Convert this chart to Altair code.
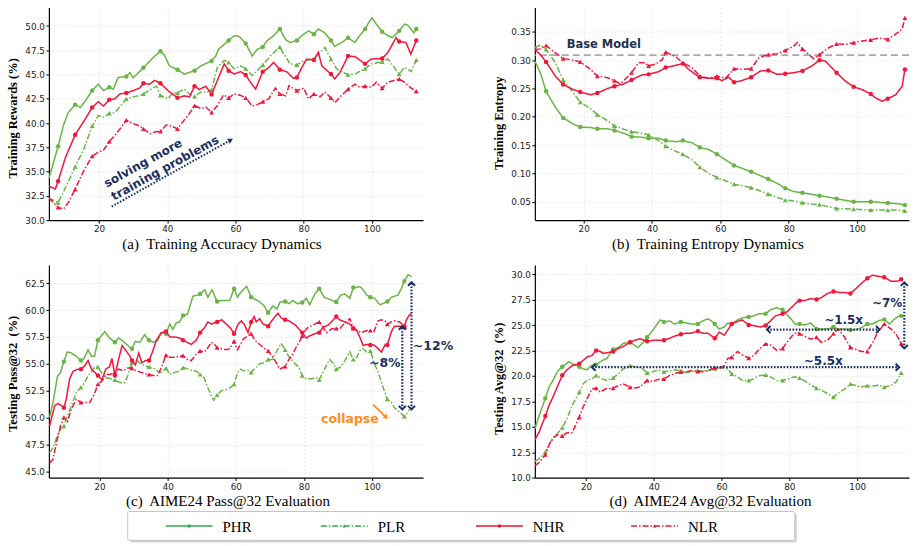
import altair as alt
import pandas as pd

SERIES = ["PHR", "PLR", "NHR", "NLR"]
GREEN = "#6ab446"
RED = "#f0173a"
NAVY = "#1b2f63"
ORANGE = "#ff8c1a"
COLOR_RANGE = [GREEN, GREEN, RED, RED]
LEGEND_COLORS = ["#30a84e", "#30a84e", "#ee1330", "#ee1330"]
DASH_RANGE = [[1, 0], [6, 2, 1.5, 2], [1, 0], [6, 2, 1.5, 2]]
SHAPE_RANGE = ["circle", "triangle-up", "circle", "triangle-up"]

# ---------------- (a) Training rewards ----------------
A_PHR = [(5.3, 34.3), (8, 37.6), (9.6, 39.8), (11, 41.1), (13, 41.9), (14.5, 41.6), (16.4, 42.5), (18, 43.35),
         (19.8, 44.0), (21.3, 43.35), (23, 43.7), (24.2, 43.5), (25.6, 44.7), (28, 44.8), (29, 45.2), (30, 44.65),
         (33, 45.7), (36.3, 46.9), (38, 47.4), (39.2, 47.0), (40.6, 45.9), (43, 45.5), (45, 45.05), (48, 45.4),
         (49.9, 45.9), (53, 46.4), (54.2, 46.9), (55, 47.6), (58, 48.5), (59.6, 49.0), (60.5, 49.0), (61.5, 48.8),
         (63, 48.2), (64.9, 46.9), (66.4, 47.6), (68, 47.85), (69.3, 48.5), (71.2, 49.0), (73, 49.7), (74.7, 48.6),
         (76, 48.3), (78, 48.5), (79.4, 49.0), (81.4, 49.5), (83, 49.15), (84.3, 49.7), (86.2, 49.3), (88, 48.5),
         (89.1, 47.9), (91.6, 48.4), (93, 48.8), (95, 48.3), (96.4, 49.0), (98, 49.7), (99.3, 50.5), (100, 50.85),
         (101.3, 50.2), (103, 49.4), (104.7, 49.0), (106, 48.8), (108, 49.5), (109.6, 50.2), (110.5, 50.1),
         (112.3, 49.3), (113, 49.7)]
A_PLR = [(5.3, 32.3), (8, 31.8), (10.1, 33.3), (13, 35.5), (15.4, 37.2), (18, 39.7), (19.8, 40.8), (21.3, 40.6),
         (23, 41.0), (24.7, 41.1), (26.6, 41.9), (28, 42.5), (30, 42.7), (31.9, 42.85), (33, 43.0), (35, 43.45),
         (36.9, 43.8), (38, 42.85), (40.2, 42.5), (41.6, 43.1), (43, 43.1), (45, 43.5), (46.5, 43.0), (48, 42.75),
         (49.9, 43.2), (51.8, 43.2), (53, 43.45), (54.7, 45.75), (56.7, 46.45), (58, 46.25), (59.6, 45.6),
         (61.5, 45.9), (63, 45.6), (64.9, 44.9), (66.4, 45.4), (68, 46.0), (70.2, 46.9), (73, 47.85), (74.2, 47.1),
         (76, 46.1), (78, 46.0), (80, 46.4), (83, 46.6), (84.3, 47.1), (86.2, 47.8), (88, 46.6), (89.6, 45.6),
         (91.6, 45.2), (93, 45.0), (95, 45.05), (98, 45.6), (99.8, 46.1), (103, 46.3), (104.7, 46.6), (108, 45.05),
         (109.6, 45.75), (111.5, 45.3), (113, 46.5)]
A_NHR = [(5.3, 33.5), (7.2, 33.2), (8, 34.0), (10.1, 36.4), (13, 38.8), (15.4, 40.1), (18, 41.6), (19.8, 42.2),
         (21.3, 41.75), (23, 42.4), (24.7, 42.5), (26.1, 43.0), (28, 43.1), (30, 43.35), (31.9, 43.6), (33, 44.1),
         (34.8, 44.0), (36.3, 44.4), (38, 44.1), (40.2, 43.35), (43, 42.6), (45, 42.8), (46.5, 42.7), (48, 43.8),
         (49.4, 43.45), (51.3, 43.8), (53, 42.95), (56.7, 46.1), (58, 45.4), (59.6, 45.05), (61.5, 45.3),
         (63, 44.95), (64.4, 44.2), (65.9, 43.5), (68, 45.3), (69.7, 45.7), (71.2, 46.25), (73, 45.5), (75, 45.3),
         (77, 44.6), (78, 44.7), (79.4, 45.7), (80.9, 46.6), (83, 46.5), (84.3, 47.3), (85.3, 45.9), (88, 45.05),
         (89.1, 44.55), (90.6, 45.2), (93, 46.9), (95, 46.85), (98, 46.1), (99.8, 46.6), (103, 46.65),
         (104.7, 47.3), (107.1, 48.8), (108, 48.4), (110, 48.3), (111.4, 47.1), (113, 48.5)]
A_NLR = [(5.3, 32.3), (8, 31.3), (9.6, 31.15), (11, 31.8), (13, 33.2), (15.4, 35.0), (18, 36.6), (19.8, 37.0),
         (21.3, 37.2), (23, 38.1), (24.7, 38.75), (26.6, 39.6), (28, 40.3), (30, 39.95), (31.9, 39.7), (33, 39.4),
         (35, 38.9), (36.5, 39.1), (38, 39.15), (39.7, 39.8), (41.1, 39.7), (43, 39.4), (44.5, 40.1), (46.5, 41.0),
         (48, 41.8), (49.9, 41.5), (51.3, 41.65), (53, 41.1), (54.7, 41.8), (56.5, 42.9), (58, 42.6), (59.6, 43.0),
         (61.5, 42.85), (63, 42.6), (64.9, 41.75), (66.4, 41.9), (68, 42.2), (69.7, 42.5), (71.7, 43.6), (73, 43.0),
         (74.7, 42.8), (75.7, 43.85), (78, 43.35), (80, 43.6), (81.4, 42.5), (83, 43.0), (84.8, 42.7),
         (86.2, 43.2), (88, 42.6), (89.1, 42.1), (91.1, 42.85), (93, 43.5), (95, 44.0), (96.4, 43.7), (98, 43.8),
         (99.8, 43.7), (101.3, 44.2), (103, 43.6), (104.7, 44.2), (108, 44.55), (109.6, 44.2), (111.5, 43.6),
         (113, 43.3)]

# ---------------- (b) Training entropy ----------------
B_PHR = [(5.7, 0.2985), (7.3, 0.278), (9, 0.245), (11.7, 0.217), (14, 0.198), (17, 0.187), (19, 0.182),
         (22, 0.181), (24, 0.179), (27, 0.179), (29, 0.176), (31.7, 0.171), (34, 0.165), (37, 0.164), (39, 0.162),
         (42, 0.162), (44, 0.158), (47, 0.156), (49, 0.158), (51.7, 0.154), (54, 0.146), (56.6, 0.142),
         (59, 0.134), (61.5, 0.124), (64, 0.114), (66.3, 0.109), (69, 0.103), (71.7, 0.096), (74, 0.090),
         (76.6, 0.0825), (79, 0.0737), (81.5, 0.0678), (84, 0.066), (86.8, 0.063), (89, 0.0607), (91.7, 0.058),
         (94, 0.0553), (96.6, 0.0524), (99, 0.050), (101.5, 0.050), (104, 0.050), (106.3, 0.049), (109, 0.0476),
         (111.9, 0.0465), (114, 0.044)]
B_PLR = [(5.7, 0.322), (7.3, 0.327), (9, 0.319), (11.7, 0.2955), (14, 0.265), (17, 0.242), (19, 0.226),
         (22, 0.2145), (24, 0.204), (27, 0.193), (29, 0.184), (31.7, 0.178), (34, 0.174), (37, 0.171), (39, 0.168),
         (42, 0.158), (44, 0.148), (47, 0.139), (49, 0.134), (51.7, 0.124), (54, 0.111), (56.6, 0.100),
         (59, 0.093), (61.5, 0.087), (64, 0.081), (66.3, 0.0784), (69, 0.075), (71.7, 0.069), (74, 0.0636),
         (76.6, 0.0577), (79, 0.053), (81.5, 0.0512), (84, 0.0482), (86.8, 0.0459), (89, 0.0447), (91.7, 0.0411),
         (94, 0.0382), (96.6, 0.0376), (99, 0.037), (101.5, 0.0358), (104, 0.0352), (106.3, 0.0352),
         (109, 0.0352), (111.9, 0.0352), (114, 0.034)]
B_NHR = [(5.7, 0.319), (7.3, 0.31), (9, 0.297), (11.7, 0.272), (14, 0.257), (17, 0.248), (19, 0.244),
         (22, 0.239), (24, 0.242), (27, 0.25), (29, 0.254), (31.7, 0.258), (34, 0.265), (37, 0.274), (39, 0.275),
         (42, 0.280), (44, 0.287), (47, 0.291), (49, 0.294), (50.7, 0.284), (52.7, 0.275), (54, 0.270),
         (56.6, 0.268), (59, 0.268), (60.5, 0.264), (62.4, 0.270), (64, 0.261), (66.3, 0.264), (69, 0.270),
         (71.7, 0.281), (74, 0.282), (76.6, 0.275), (79, 0.276), (81.5, 0.278), (84, 0.281), (86.8, 0.290),
         (89, 0.300), (90.7, 0.2985), (94, 0.278), (96.6, 0.263), (99, 0.253), (101.5, 0.248), (104, 0.2405),
         (105.4, 0.2335), (107.3, 0.2275), (109, 0.232), (111.3, 0.239), (113.2, 0.254), (114, 0.2837)]
B_NLR = [(5.7, 0.319), (7.3, 0.320), (9, 0.326), (11.7, 0.313), (14, 0.303), (17, 0.300), (19, 0.297),
         (22, 0.284), (24, 0.272), (27, 0.269), (29, 0.264), (30.7, 0.258), (34, 0.278), (36.1, 0.2955),
         (38, 0.2955), (39, 0.290), (41, 0.293), (43, 0.301), (44, 0.3145), (47, 0.3056), (49, 0.2955),
         (51.7, 0.287), (54, 0.272), (56.6, 0.268), (59, 0.272), (61.5, 0.268), (64, 0.285), (66.3, 0.284),
         (69, 0.285), (71.2, 0.304), (74, 0.310), (76.6, 0.3115), (79, 0.3175), (81.5, 0.325), (82.5, 0.331),
         (84, 0.320), (85.9, 0.310), (87.3, 0.3027), (89, 0.310), (91.7, 0.322), (94, 0.329), (96.6, 0.328),
         (99, 0.331), (101.5, 0.334), (104, 0.336), (106.3, 0.339), (109, 0.337), (111.3, 0.346), (113.2, 0.355),
         (114, 0.375)]
BASE_MODEL_ENTROPY = 0.309

# ---------------- (c) AIME24 Pass@32 ----------------
C_PHR = [(5.3, 50.0), (6.3, 51.4), (7.6, 53.8), (8.5, 54.2), (9.5, 55.2), (10.5, 56.1), (11.7, 56.0),
         (13.1, 55.7), (14.5, 55.3), (15.4, 55.5), (16.6, 56.3), (17.6, 55.7), (18.5, 55.7), (19.5, 57.2),
         (20.5, 57.6), (21.5, 58.0), (22.9, 57.4), (24.5, 57.0), (25.6, 57.4), (26.9, 57.1), (28.3, 56.7),
         (29.5, 56.4), (30.5, 57.1), (31.8, 57.0), (33.2, 57.7), (34.5, 57.2), (35.7, 57.0), (37.1, 57.2),
         (38.1, 57.9), (39.5, 57.8), (40.6, 58.7), (41.5, 58.2), (42.5, 58.8), (43.5, 58.9), (44.5, 59.5),
         (45.8, 59.6), (47.4, 61.3), (48.9, 61.4), (49.5, 61.5), (50.9, 61.9), (51.8, 61.2), (53, 61.9),
         (54.5, 60.8), (55.8, 60.9), (57.2, 60.9), (58.2, 60.9), (59.5, 62.0), (60.5, 61.2), (61.1, 61.5),
         (62.5, 62.0), (63.2, 62.2), (64.5, 61.2), (65.7, 61.0), (67.1, 60.75), (68.3, 60.4), (69.5, 59.75),
         (70.9, 60.4), (72.1, 60.1), (73, 60.75), (74.5, 60.8), (75.7, 60.6), (76.7, 60.9), (78, 60.6),
         (79.5, 60.7), (80.7, 61.1), (81.7, 60.5), (83.2, 61.5), (84.5, 62.0), (85.9, 61.2), (87.5, 61.0),
         (89.5, 60.75), (90.8, 61.4), (92, 61.5), (93.5, 61.1), (94.5, 62.1), (95.5, 62.1), (96.4, 62.2),
         (97.4, 61.9), (98.4, 61.4), (99.5, 61.2), (100.8, 61.1), (102.3, 60.5), (103.2, 60.6), (104.5, 60.8),
         (105.7, 61.2), (107.6, 61.4), (108.6, 62.0), (109.5, 62.7), (110.6, 63.3), (111.6, 63.1)]
C_PLR = [(5.3, 46.7), (6.3, 47.2), (7.6, 48.3), (8.5, 48.9), (9.5, 49.2), (10.5, 50.1), (11.7, 51.1),
         (13.1, 52.3), (14.5, 52.8), (15.6, 53.25), (16.6, 53.9), (17.7, 54.3), (18.5, 54.7), (19.5, 54.7),
         (20.5, 54.2), (21.9, 53.7), (23.4, 53.6), (24.5, 53.5), (25.9, 53.25), (27.3, 53.2), (28.3, 53.9),
         (29.5, 55.1), (30.7, 55.3), (32.2, 55.0), (33.2, 54.8), (34.5, 54.7), (35.7, 54.6), (37.1, 54.3),
         (38.1, 54.2), (39.5, 54.6), (40.6, 54.0), (42, 54.2), (43.5, 54.3), (44.5, 54.65), (45.8, 54.55),
         (46.9, 54.4), (48.4, 54.3), (49.5, 54.0), (50.7, 53.7), (51.6, 52.9), (52.8, 52.0), (53.5, 51.6),
         (54.5, 52.1), (55.8, 52.5), (57.2, 52.6), (58.5, 52.8), (59.5, 53.1), (60.5, 54.2), (61.5, 54.5),
         (62.2, 54.35), (63.6, 54.4), (64.5, 54.2), (65.8, 54.65), (67, 55.0), (68.5, 55.1), (69.5, 55.4),
         (70.9, 55.4), (71.9, 56.1), (73.3, 56.9), (74.5, 56.3), (75.7, 55.6), (77.2, 55.1), (78.6, 54.6),
         (79.5, 53.9), (80.7, 53.6), (82.2, 53.6), (83.7, 53.7), (84.5, 53.5), (85.6, 54.2), (87.5, 55.4),
         (88.5, 55.1), (89.5, 54.5), (90.8, 54.7), (92, 55.3), (93.5, 56.1), (94.5, 55.4), (95.5, 55.6),
         (96.4, 56.2), (97.4, 56.4), (98.4, 56.1), (99.5, 56.2), (100.6, 55.1), (101.8, 54.2), (102.8, 53.25),
         (103.8, 52.3), (104.5, 51.7), (105.7, 51.4), (106.6, 50.9), (108.1, 50.5), (109.5, 50.1),
         (110.1, 50.3), (111.1, 50.75)]
C_NHR = [(5.3, 49.2), (6.8, 51.1), (7.8, 51.3), (8.8, 51.1), (9.5, 50.9), (10.2, 51.7), (11.2, 53.6),
         (12.2, 54.3), (13.6, 54.5), (14.5, 54.5), (15.6, 54.8), (16.6, 55.3), (17.6, 54.5), (19.5, 53.9),
         (20.7, 53.5), (21.8, 54.5), (22.9, 54.7), (23.6, 55.5), (24.5, 53.9), (25.4, 55.2), (26.6, 56.7),
         (27.8, 56.2), (28.8, 55.75), (29.5, 55.3), (30.5, 54.9), (31.5, 56.0), (32.4, 55.1), (33.4, 55.3),
         (34.5, 55.3), (35.4, 56.0), (36.7, 57.2), (38.1, 57.9), (39.5, 58.0), (40.6, 57.5), (42, 57.5),
         (43.5, 57.4), (44.5, 57.2), (46.9, 56.8), (48.4, 57.2), (49.5, 57.9), (50.9, 58.4), (51.8, 58.9),
         (52.8, 58.7), (54.5, 58.9), (55.8, 59.1), (57.2, 58.7), (58.5, 58.3), (59.5, 57.8), (60.7, 58.7),
         (61.6, 59.0), (62.6, 58.6), (63.6, 57.9), (64.5, 58.9), (65.4, 59.4), (66, 58.9), (67, 59.2),
         (68, 58.7), (69.5, 58.5), (70.3, 58.9), (71.3, 59.3), (72.4, 59.7), (73.4, 59.25), (74.5, 59.1),
         (75.6, 59.0), (77.5, 58.6), (78.5, 58.25), (79.5, 57.9), (80.7, 57.4), (81.7, 57.6), (83.2, 57.8),
         (84.5, 57.9), (85.6, 58.4), (87.1, 58.6), (88.1, 58.9), (89.5, 59.4), (90.5, 59.1), (92, 58.9),
         (93.5, 58.7), (94.5, 58.3), (95.5, 58.1), (96.4, 57.5), (97.4, 56.7), (98.4, 56.8), (99.5, 56.75),
         (100.6, 56.75), (101.8, 56.4), (102.8, 56.1), (103.8, 56.75), (104.5, 56.75), (105.7, 58.0),
         (106.6, 58.5), (108.1, 58.5), (109.5, 58.5), (110.1, 59.1), (111.1, 59.6), (111.6, 59.6)]
C_NLR = [(5.3, 45.75), (6.3, 46.1), (7.3, 47.6), (8.5, 49.2), (9.5, 50.0), (10.5, 49.6), (11.7, 50.75),
         (13.1, 51.7), (14.5, 51.4), (15.6, 51.4), (17.1, 51.4), (18.5, 52.2), (19.5, 53.1), (20.7, 53.4),
         (22, 54.0), (23.1, 54.0), (24.5, 54.2), (25.6, 54.5), (26.9, 54.35), (28.3, 54.6), (29.5, 54.6),
         (30.7, 54.35), (32.2, 54.2), (33.2, 54.1), (34.5, 54.0), (35.7, 53.9), (37.1, 53.9), (38.3, 54.8),
         (39.5, 55.8), (40.6, 55.6), (42, 55.6), (43.5, 55.7), (44.5, 55.75), (45.8, 55.4), (46.9, 55.3),
         (48.4, 55.9), (49.5, 56.2), (50.7, 56.1), (51.6, 56.4), (52.8, 57.0), (53.8, 56.8), (54.5, 56.5),
         (55.8, 56.4), (57.2, 56.3), (58.2, 56.4), (59.5, 57.1), (60.5, 56.3), (62.2, 57.3), (63.6, 57.6),
         (64.5, 57.8), (65.6, 57.2), (67, 56.8), (68.5, 56.4), (69.5, 56.2), (70.6, 55.75), (71.9, 55.1),
         (72.9, 54.5), (74.5, 54.75), (75.6, 55.4), (76.5, 55.75), (77.5, 56.4), (79, 57.25), (79.5, 57.6),
         (80.7, 58.25), (81.9, 58.5), (83.2, 58.7), (84.5, 58.9), (85.6, 58.4), (86.6, 57.9), (88.1, 58.25),
         (89.5, 58.3), (90.5, 58.25), (92, 58.8), (93.5, 59.2), (94.5, 58.3), (95.7, 58.1), (96.8, 57.9),
         (98.4, 58.1), (99.5, 58.1), (100.6, 58.0), (101.8, 59.0), (102.8, 59.1), (103.8, 59.0), (104.5, 58.7),
         (105.7, 58.9), (106.6, 59.0), (108.1, 58.9), (109.5, 58.5), (110.1, 58.25)]

# ---------------- (d) AIME24 Avg@32 ----------------
D_PHR = [(4.9, 14.8), (6.2, 16.1), (8, 17.8), (9.1, 18.9), (10.5, 19.7), (11.5, 20.4), (13, 20.9), (14.2, 21.2),
         (14.9, 21.4), (15.9, 21.2), (18, 20.9), (19.1, 20.7), (20.3, 20.6), (21.5, 21.0), (23, 21.1),
         (24.7, 21.5), (26.1, 21.7), (28, 22.6), (29.6, 22.8), (31, 23.2), (33, 23.3), (34.4, 23.0), (35.4, 22.8),
         (36.9, 23.3), (38, 23.8), (39.3, 24.3), (40.8, 25.0), (41.9, 25.5), (43, 25.3), (44.7, 25.4),
         (46.1, 25.1), (48, 25.3), (49.5, 25.2), (51, 25.1), (53, 25.1), (54.4, 25.4), (55.9, 25.6),
         (56.8, 25.45), (58, 25.1), (59.3, 24.6), (60.8, 24.8), (61.8, 25.2), (63, 25.1), (64.7, 25.5),
         (66.1, 25.7), (68, 25.8), (69.5, 25.9), (71, 26.1), (73, 26.1), (74.4, 26.5), (76.3, 26.7), (78, 26.5),
         (79.3, 26.0), (80.5, 25.6), (81.7, 25.1), (83, 25.1), (84.5, 25.0), (86.3, 25.2), (88, 24.6),
         (89.4, 24.6), (90.9, 24.6), (92.4, 24.7), (93, 24.8), (94.4, 24.6), (96.3, 24.6), (98, 24.5),
         (100.2, 24.6), (101.6, 24.8), (103, 25.1), (104.6, 25.1), (106.5, 25.45), (108, 25.55), (109.5, 25.1),
         (110.9, 25.55), (111.9, 25.8), (113, 25.9)]
D_PLR = [(4.9, 11.6), (6.2, 11.85), (8, 12.5), (9.1, 13.3), (10.5, 14.0), (11.5, 14.3), (13, 14.9), (14.4, 15.8),
         (15.9, 17.1), (18, 18.4), (19.1, 19.2), (20.3, 19.55), (21.75, 19.7), (23, 20.05), (24.7, 19.7),
         (26.1, 19.55), (28, 19.8), (29.6, 20.2), (31, 20.7), (33, 21.0), (34.9, 20.85), (36.4, 20.8), (38, 20.3),
         (39.8, 20.4), (41.2, 20.6), (43, 20.4), (44.7, 20.5), (46.1, 20.6), (48, 20.5), (49.5, 20.3),
         (51, 20.4), (53, 20.5), (54.4, 20.5), (55.9, 20.5), (58, 20.7), (59.3, 20.8), (61.8, 20.7), (63, 20.2),
         (64.7, 19.9), (66.1, 19.55), (68, 19.55), (69.5, 19.7), (71, 20.0), (73, 20.1), (74.4, 19.9),
         (76.3, 19.55), (78, 19.55), (79.7, 19.7), (81.4, 19.9), (83, 19.8), (84.5, 19.5), (86.3, 19.1),
         (88, 18.8), (89.4, 18.6), (91.3, 18.25), (93, 17.9), (94.8, 18.4), (96.3, 18.7), (98, 19.2),
         (99.7, 19.05), (101.2, 18.9), (103, 19.05), (104.6, 19.0), (106.5, 19.1), (108, 18.9), (110, 19.05),
         (111.5, 19.4), (113, 20.3)]
D_NHR = [(4.9, 13.7), (6.2, 14.5), (8, 16.05), (9.1, 17.1), (10.5, 18.1), (11.5, 18.9), (13, 20.05), (14.4, 20.6),
         (15.9, 21.0), (18, 21.2), (19.1, 21.5), (20.3, 21.85), (21.75, 22.0), (23, 22.5), (24.2, 22.4),
         (25.2, 22.2), (26.6, 22.3), (28, 22.4), (29.6, 22.7), (31, 22.9), (33, 23.3), (34.4, 23.5),
         (35.9, 23.65), (38, 23.4), (39.8, 23.5), (41.2, 23.5), (43, 23.5), (44.7, 23.7), (46.1, 23.9),
         (48, 24.1), (49.5, 24.2), (51, 24.2), (53, 24.4), (54.4, 24.2), (55.9, 24.2), (58, 23.7), (59.3, 24.3),
         (60.8, 24.0), (63, 25.1), (64.7, 25.35), (66.1, 25.5), (68, 25.0), (69.5, 24.95), (71.4, 24.8),
         (73, 24.95), (74.4, 25.4), (75.9, 25.9), (78, 26.1), (79.3, 26.3), (80.7, 26.75), (82.2, 27.25),
         (83, 27.4), (84.5, 27.4), (86.3, 27.6), (88, 27.5), (89.4, 27.7), (91.3, 28.1), (93, 28.3), (94.8, 28.2),
         (96.3, 28.2), (98, 28.1), (99.7, 28.6), (101.6, 29.2), (103, 29.6), (104.6, 29.9), (106.1, 29.8),
         (108, 29.7), (110, 29.3), (111.9, 29.3), (113, 29.5)]
D_NLR = [(4.9, 11.15), (6.2, 11.5), (8, 12.25), (9.1, 13.2), (10.5, 13.95), (11.5, 14.2), (13, 14.1),
         (14.4, 14.4), (15.9, 14.4), (18, 15.95), (19.1, 16.9), (20.3, 17.75), (21.75, 18.7), (23, 18.8),
         (24.2, 18.4), (25.7, 18.7), (28, 18.8), (29.6, 19.05), (31, 19.2), (33, 18.9), (34.4, 18.8), (35.9, 18.9),
         (38, 19.55), (39.8, 19.45), (41.2, 19.65), (43, 19.7), (44.7, 20.05), (46.1, 20.2), (48, 20.4),
         (49.5, 20.4), (51, 20.5), (53, 20.45), (54.4, 20.4), (55.9, 20.5), (56.5, 20.6), (58, 20.8), (59.3, 20.7),
         (60.8, 21.0), (61.8, 21.7), (63, 21.85), (64.7, 22.4), (66.1, 22.05), (68, 21.75), (69.5, 22.0),
         (71, 22.6), (73, 23.15), (74.4, 23.05), (76.3, 22.5), (78, 22.7), (79.3, 23.3), (80.7, 23.9),
         (82.2, 24.3), (83, 24.15), (84.5, 23.9), (86.3, 23.6), (88, 23.8), (89.4, 23.3), (91.3, 23.5),
         (93, 24.15), (94.4, 24.6), (96.3, 23.8), (98, 22.8), (99.7, 22.6), (101.2, 22.4), (103, 22.4),
         (104.6, 23.3), (106.1, 24.3), (108, 25.1), (110, 24.6), (111.5, 24.1), (113, 23.2)]

# ---------------- annotations (data coordinates) ----------------
A_TEXT = [("solving more\ntraining problems", 21.7, 33.7)]
A_ARROW = [(23.7, 31.4, 58.6, 38.25)]
C_TEXT = [("~8%", 108.4, 55.1, "right"), ("~12%", 112.0, 56.7, "left")]
C_ARROWS = [(108.9, 50.75, 108.9, 58.5), (111.6, 50.75, 111.6, 62.6)]
C_COLLAPSE = ("collapse", 93.5, 49.9)
C_COLLAPSE_ARROW = (100.3, 51.2, 104.2, 50.0)
D_TEXT = [("~7%", 113.3, 27.2, "right"), ("~1.5x", 96.0, 25.45, "center"), ("~5.5x", 90.0, 21.5, "center")]
D_ARROWS_V = [(113.9, 22.7, 113.9, 29.2)]
D_ARROWS_H = [(73.4, 24.55, 106.6, 24.55), (21.75, 20.85, 112.4, 20.85)]

W, H = 375, 213
CHEVRON = "M-1,1L0,0L1,1"
NB = "\u00a0"


def build_df(pts_by_series, off):
    rows = []
    for s in SERIES:
        for x, y in pts_by_series[s]:
            k = (x - off) / 5.0
            is_m = (x >= off - 1e-6) and abs(k - round(k)) < 1e-6
            rows.append({"step": x, "value": y, "series": s, "marker": bool(is_m)})
    return pd.DataFrame(rows)


def panel(df, xdom, ydom, yticks, yfmt, ytitle, caption, cap_x, ytitle_dy, extra):
    xs = alt.Scale(domain=xdom, nice=False, zero=False)
    ys = alt.Scale(domain=ydom, nice=False, zero=False)
    xaxis = alt.Axis(values=[20, 40, 60, 80, 100], format="d", title=caption, titleX=cap_x, titleY=23,
                     titleAlign="center", titleBaseline="middle", titleFont="Liberation Serif",
                     titleFontWeight="normal", titleFontSize=15, grid=True)
    yaxis = alt.Axis(values=yticks, format=yfmt, title=ytitle, titleX=-36.5, titleY=H / 2 + ytitle_dy,
                     titleAngle=270, titleAlign="center", titleBaseline="middle", grid=True)

    def X(f):
        return alt.X(f, type="quantitative", scale=xs, axis=xaxis)

    def Y(f):
        return alt.Y(f, type="quantitative", scale=ys, axis=yaxis)

    layers = []
    for item in extra.get("under", []):
        layers.append(item(X, Y))
    for i, s in enumerate(SERIES):
        d = df[df.series == s]
        layers.append(alt.Chart(d).mark_line(color=COLOR_RANGE[i], strokeWidth=1.5, strokeDash=DASH_RANGE[i],
                                             clip=True).encode(x=X("step"), y=Y("value")))
        layers.append(alt.Chart(d[d.marker]).mark_point(filled=True, shape=SHAPE_RANGE[i],
                                                        size=20 if i % 2 == 0 else 24, color=COLOR_RANGE[i],
                                                        opacity=1).encode(x=X("step"), y=Y("value")))
    for item in extra.get("over", []):
        layers.append(item(X, Y))
    for item in extra.get("plain", []):
        layers.append(item)
    return alt.layer(*layers).properties(width=W, height=H)


def seg_layer(segs, color, width=2.2, dash=(1.6, 1.6)):
    df = pd.DataFrame(segs, columns=["x0", "y0", "x1", "y1"])

    def f(X, Y):
        return alt.Chart(df).mark_rule(color=color, strokeWidth=width, strokeDash=list(dash)).encode(
            x=X("x0"), y=Y("y0"), x2="x1", y2="y1")
    return f


def head_layer(heads, color, shape=CHEVRON, filled=False, size=50):
    df = pd.DataFrame(heads, columns=["x", "y", "ang"])

    def f(X, Y):
        return alt.Chart(df).mark_point(shape=shape, filled=filled, size=size, color=color, opacity=1,
                                        strokeWidth=2).encode(
            x=X("x"), y=Y("y"), angle=alt.Angle("ang:Q", scale=None))
    return f


def text_layer(rows, color, size=12, angle=0, align="center", line_break=False):
    if len(rows[0]) == 4:
        df = pd.DataFrame(rows, columns=["label", "x", "y", "al"])
    else:
        df = pd.DataFrame(rows, columns=["label", "x", "y"])

    def f(X, Y):
        layers = []
        groups = df.groupby("al") if "al" in df else [(align, df)]
        for al, g in groups:
            kw = dict(font="DejaVu Sans", fontWeight="bold", fontSize=size, color=color, align=al,
                      baseline="middle")
            if angle:
                kw["angle"] = angle
            if line_break:
                kw["lineBreak"] = "\n"
                kw["lineHeight"] = 15
            layers.append(alt.Chart(g).mark_text(**kw).encode(x=X("x"), y=Y("y"), text="label:N"))
        return alt.layer(*layers)
    return f


def base_line(X, Y):
    return alt.Chart(pd.DataFrame({"y": [BASE_MODEL_ENTROPY]})).mark_rule(
        color="#a9a9a9", strokeWidth=1.6, strokeDash=[7, 4]).encode(y=Y("y"))


def base_text(X, Y):
    return alt.Chart(pd.DataFrame({"x": [25.9], "y": [0.327], "t": ["Base Model"]})).mark_text(
        font="DejaVu Sans", fontWeight="bold", fontSize=11.5, color="#1f3350", align="center",
        baseline="middle").encode(x=X("x"), y=Y("y"), text="t:N")


# ----- legend (drawn below panel c, pixel offsets relative to its plot area) -----
one = pd.DataFrame({"k": [0]})
LEG_TOP, LEG_H = 247, 29
LEG_L, LEG_R = 79, 747.5
legend_layers = [
    alt.Chart(one).mark_rect(fill="#d4d4d4", cornerRadius=2).encode(
        x=alt.value(LEG_L + 2), x2=alt.value(LEG_R + 2), y=alt.value(LEG_TOP + 2), y2=alt.value(LEG_TOP + LEG_H + 2)),
    alt.Chart(one).mark_rect(fill="white", stroke="#c4c4c4", strokeWidth=1, cornerRadius=2).encode(
        x=alt.value(LEG_L), x2=alt.value(LEG_R), y=alt.value(LEG_TOP), y2=alt.value(LEG_TOP + LEG_H)),
]
for i, s in enumerate(SERIES):
    xs0 = 117 + 155.5 * i
    ymid = LEG_TOP + LEG_H / 2
    legend_layers.append(alt.Chart(one).mark_rule(color=LEGEND_COLORS[i], strokeWidth=1.6,
                                                  strokeDash=DASH_RANGE[i]).encode(
        x=alt.value(xs0), x2=alt.value(xs0 + 47), y=alt.value(ymid)))
    legend_layers.append(alt.Chart(one).mark_point(filled=True, size=12, opacity=1, color=LEGEND_COLORS[i],
                                                   shape=SHAPE_RANGE[i]).encode(
        x=alt.value(xs0 + 23.5), y=alt.value(ymid)))
    legend_layers.append(alt.Chart(one).mark_text(align="left", baseline="middle", font="Liberation Serif",
                                                  fontSize=15, color="black", text=s).encode(
        x=alt.value(xs0 + 57), y=alt.value(ymid + 1)))

# ----- panels -----
dfa = build_df({"PHR": A_PHR, "PLR": A_PLR, "NHR": A_NHR, "NLR": A_NLR}, 8)
dfb = build_df({"PHR": B_PHR, "PLR": B_PLR, "NHR": B_NHR, "NLR": B_NLR}, 9)
dfc = build_df({"PHR": C_PHR, "PLR": C_PLR, "NHR": C_NHR, "NLR": C_NLR}, 9.5)
dfd = build_df({"PHR": D_PHR, "PLR": D_PLR, "NHR": D_NHR, "NLR": D_NLR}, 8)

x0, y0, x1, y1 = A_ARROW[0]
pa = panel(dfa, [5.3, 115], [30, 51.9], [30 + 2.5 * i for i in range(9)], ".1f", "Training Rewards (%)",
           "(a)" + NB + " Training Accuracy Dynamics", 173, 4,
           {"over": [text_layer(A_TEXT, NAVY, size=12, angle=331, align="left", line_break=True),
                     seg_layer(A_ARROW, NAVY, width=2.0),
                     head_layer([(x1, y1, 61)], NAVY, shape="triangle-up", filled=True, size=35)]})

pb = panel(dfb, [5.7, 115.2], [0.0175, 0.393], [0.05, 0.10, 0.15, 0.20, 0.25, 0.30, 0.35], ".2f",
           "Training Entropy", "(b)" + NB + " Training Entropy Dynamics", 173, 9,
           {"under": [base_line], "over": [base_text]})

c_heads = []
for (ax0, ay0, ax1, ay1) in C_ARROWS:
    c_heads += [(ax0, ay0, 180), (ax1, ay1, 0)]
cx0, cy0, cx1, cy1 = C_COLLAPSE_ARROW
pc = panel(dfc, [5.1, 115], [44.4, 64.2], [45 + 2.5 * i for i in range(8)], ".1f",
           "Testing Pass@32" + NB + " (%)", "(c)" + NB + " AIME24 Pass@32 Evaluation", 179, 2,
           {"over": [seg_layer(C_ARROWS, NAVY), head_layer(c_heads, NAVY),
                     text_layer(C_TEXT, NAVY, size=12.5),
                     text_layer([C_COLLAPSE], ORANGE, size=12.5),
                     seg_layer([C_COLLAPSE_ARROW], ORANGE, width=1.8, dash=(1, 0)),
                     head_layer([(cx1, cy1, 135)], ORANGE, shape="triangle-up", filled=True, size=30)],
            "plain": legend_layers})

d_heads = []
for (ax0, ay0, ax1, ay1) in D_ARROWS_V:
    d_heads += [(ax0, ay0, 180), (ax1, ay1, 0)]
for (ax0, ay0, ax1, ay1) in D_ARROWS_H:
    d_heads += [(ax0, ay0, 270), (ax1, ay1, 90)]
pd_ = panel(dfd, [4.9, 115.3], [10, 30.9], [10 + 2.5 * i for i in range(9)], ".1f",
            "Testing Avg@32" + NB + " (%)", "(d)" + NB + " AIME24 Avg@32 Evaluation", 175.5, 7,
            {"over": [seg_layer(D_ARROWS_V + D_ARROWS_H, NAVY), head_layer(d_heads, NAVY),
                      text_layer(D_TEXT, NAVY, size=12)]})

chart = alt.concat(pa, pb, pc, pd_, columns=2, spacing={"row": 45, "column": 112}, bounds="flush").properties(
    padding={"left": 6, "top": 7, "right": 5, "bottom": 2}
).configure_view(stroke=None).configure_axis(
    domainColor="black", domainWidth=1.2, gridColor="#dedede", gridDash=[2, 2], gridWidth=0.7,
    tickColor="black", tickSize=3, tickWidth=1, labelFont="DejaVu Sans", labelFontSize=8.8,
    labelColor="#222222", labelPadding=1.5, titleFont="Liberation Serif", titleFontWeight="bold",
    titleFontSize=12.5, titleColor="black"
)

chart.save("out.html", embed_options={"renderer": "svg", "actions": False})
